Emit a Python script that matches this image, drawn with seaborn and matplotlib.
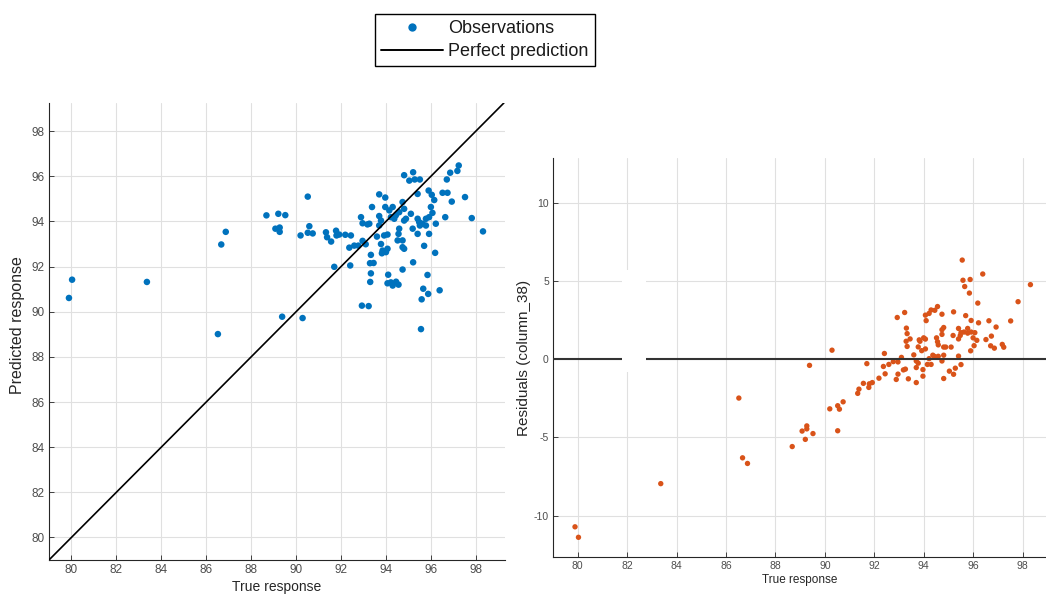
import matplotlib
matplotlib.use("Agg")
import matplotlib.pyplot as plt
import numpy as np
import pandas as pd
import seaborn as sns
from matplotlib.lines import Line2D
from matplotlib.patches import Rectangle

# Observed (true) and model-predicted responses, one entry per observation
true_response = [
    79.89, 80.03, 83.36, 86.52, 86.67, 86.87, 88.68, 89.21, 89.52, 89.08,
    89.27, 89.27, 89.38, 90.29, 90.52, 90.20, 90.59, 90.52, 90.74, 91.33,
    91.38, 91.56, 91.78, 91.80, 91.92, 92.19, 92.44, 91.70, 92.41, 92.37,
    92.59, 92.77, 92.89, 92.96, 93.18, 93.26, 92.96, 93.10, 93.38, 93.33,
    93.29, 93.45, 93.33, 93.30, 92.93, 93.23, 93.60, 93.70, 93.97, 93.70,
    93.78, 93.70, 93.97, 94.15, 94.30, 94.22, 94.37, 93.92, 94.07, 93.78,
    93.85, 94.00, 94.07, 93.82, 94.10, 94.07, 94.30, 94.45, 94.56, 94.22,
    94.44, 94.59, 94.74, 94.81, 94.81, 94.89, 94.59, 94.56, 94.52, 94.74,
    94.74, 94.81, 94.74, 94.81, 95.21, 95.04, 95.28, 95.51, 95.11, 95.19,
    95.21, 95.41, 95.41, 95.48, 95.63, 95.78, 95.51, 95.41, 95.78, 95.92,
    96.07, 96.00, 95.90, 96.04, 96.15, 95.92, 96.22, 95.70, 96.19, 95.85,
    95.66, 95.88, 95.59, 95.56, 96.39, 96.52, 96.74, 96.93, 96.71, 96.86,
    97.18, 97.24, 97.52, 96.64, 97.82, 98.32,
]
predicted_response = [
    90.61, 91.42, 91.32, 89.01, 92.98, 93.54, 94.27, 94.34, 94.28, 93.68,
    93.54, 93.73, 89.78, 89.72, 95.10, 93.38, 93.79, 93.50, 93.47, 93.52,
    93.30, 93.11, 93.59, 93.38, 93.42, 93.41, 93.38, 91.99, 92.05, 92.84,
    92.93, 92.93, 94.19, 93.92, 93.87, 93.90, 93.14, 92.99, 94.64, 92.52,
    92.15, 92.16, 91.70, 91.32, 90.27, 90.25, 93.33, 95.20, 95.06, 94.24,
    94.04, 93.82, 94.64, 94.49, 94.64, 94.19, 94.12, 93.38, 93.42, 93.00,
    92.71, 92.64, 92.79, 92.59, 91.64, 91.26, 91.16, 91.33, 91.20, 91.30,
    94.27, 94.41, 94.86, 94.56, 94.04, 94.12, 93.68, 93.45, 93.16, 93.16,
    92.86, 92.79, 91.87, 96.05, 96.18, 95.81, 95.86, 95.86, 94.34, 93.68,
    92.19, 95.22, 94.12, 93.97, 93.90, 93.82, 93.82, 93.45, 94.12, 94.19,
    94.38, 94.64, 95.37, 95.18, 94.95, 93.45, 93.90, 92.92, 92.61, 91.63,
    91.02, 90.79, 90.55, 89.23, 90.95, 95.27, 95.27, 94.88, 95.86, 96.16,
    96.24, 96.48, 95.08, 94.19, 94.15, 93.56,
]
response_ticks = [80, 82, 84, 86, 88, 90, 92, 94, 96, 98]
residual_ticks = [-10, -5, 0, 5, 10]

df = pd.DataFrame({"true": true_response, "pred": predicted_response})
df["resid"] = df["true"] - df["pred"]

BLUE = "#0072BD"
ORANGE = "#D95319"
AXIS_C = "#262626"
TICK_C = "#4d4d4d"
GRID_C = "#e0e0e0"

sns.set_theme(style="white")
plt.rcParams["font.family"] = ["Liberation Sans", "DejaVu Sans"]
plt.rcParams["axes.unicode_minus"] = False

fig = plt.figure(figsize=(10.46, 5.99), dpi=100)
fig.patch.set_facecolor("white")


def style_axes(ax, tick_size):
    ax.set_facecolor("white")
    ax.grid(True, color=GRID_C, linewidth=0.8)
    ax.set_axisbelow(True)
    for side in ("top", "right"):
        ax.spines[side].set_visible(False)
    for side in ("left", "bottom"):
        ax.spines[side].set_color(AXIS_C)
        ax.spines[side].set_linewidth(0.8)
    ax.tick_params(direction="in", length=3.5, width=0.6, color=AXIS_C,
                   labelcolor=TICK_C, labelsize=tick_size, pad=3,
                   left=True, bottom=True)


# Predicted vs. true response
ax1 = fig.add_axes([0.0468, 0.0651, 0.436, 0.763])
sns.scatterplot(data=df, x="true", y="pred", ax=ax1, color=BLUE, s=22,
                edgecolor="none", linewidth=0, legend=False, zorder=2)
ax1.axline((0, 0), slope=1, color="black", linewidth=1.2, zorder=3)
ax1.set_xlim(79, 99.3)
ax1.set_ylim(79, 99.25)
ax1.set_xticks(response_ticks)
ax1.set_yticks(response_ticks)
style_axes(ax1, 8.5)
ax1.set_xlabel("True response", fontsize=10, color=AXIS_C, labelpad=3)
ax1.set_ylabel("Predicted response", fontsize=11.5, color=AXIS_C, labelpad=3)
ax1.yaxis.set_label_coords(-0.052, 0.515)

# Residuals vs. true response
ax2 = fig.add_axes([0.5287, 0.0701, 0.4713, 0.666])
sns.scatterplot(data=df, x="true", y="resid", ax=ax2, color=ORANGE, s=15,
                edgecolor="none", linewidth=0, legend=False, zorder=2)
ax2.axhline(0, color="#333333", linewidth=1.5, zorder=3)
ax2.set_xlim(79, 98.95)
ax2.set_ylim(-12.65, 12.85)
ax2.set_xticks(response_ticks)
ax2.set_yticks(residual_ticks)
style_axes(ax2, 7.5)
ax2.set_xlabel("True response", fontsize=8.5, color=AXIS_C, labelpad=2)
ax2.set_ylabel("Residuals (column_38)", fontsize=11, color=AXIS_C, labelpad=2)

# Blank patch over part of the residual panel
fig.patches.append(Rectangle((622 / 1046, 1 - 372 / 599), 24 / 1046, 102 / 599,
                             transform=fig.transFigure, facecolor="white",
                             edgecolor="none", zorder=5))

# Shared legend above the panels
handles = [
    Line2D([], [], linestyle="none", marker="o", markersize=6,
           markerfacecolor=BLUE, markeredgecolor="none"),
    Line2D([], [], color="black", linewidth=1.4),
]
leg = fig.legend(handles, ["Observations", "Perfect prediction"],
                 loc="center", bbox_to_anchor=(0.4637, 0.933),
                 frameon=True, fancybox=False, edgecolor="black",
                 framealpha=1, fontsize=13, handlelength=3.4,
                 borderpad=0.35, labelspacing=0.32, handletextpad=0.3,
                 borderaxespad=0)
leg.get_frame().set_linewidth(1.0)
for t in leg.get_texts():
    t.set_color("#1a1a1a")

fig.savefig("out.png", dpi=100, facecolor="white")
